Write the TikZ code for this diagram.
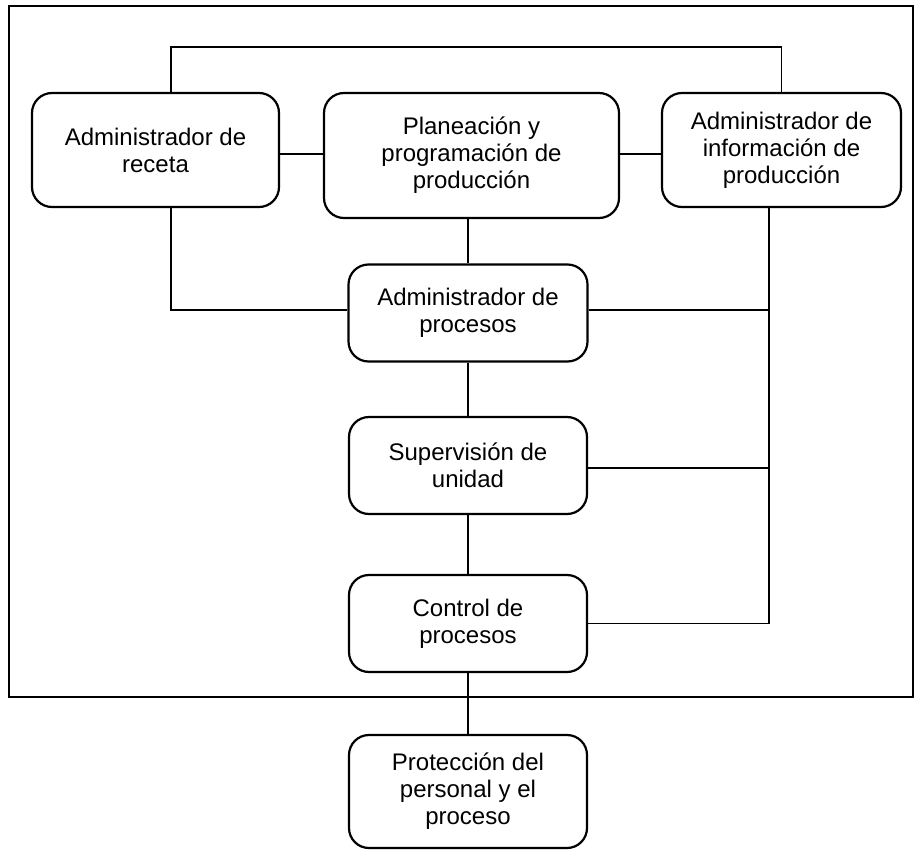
\documentclass[tikz,border=0pt]{standalone}
\usepackage{fontspec}
\setmainfont{Liberation Sans}
\begin{document}
\begin{tikzpicture}[x=1pt,y=-1pt,
  box/.style={draw, line width=2.2pt, rounded corners=20pt, align=center,
    inner sep=0pt, font=\fontsize{24}{27}\selectfont},
  conn/.style={draw, line width=1.4pt},
  frame/.style={draw, line width=1.8pt}]
\useasboundingbox (0,0) rectangle (920,850);
\draw[frame] (9,6) rectangle (913,697);
\node[box, minimum width=247pt, minimum height=114pt] (receta) at (155.5,150) {Administrador de\\receta};
\node[box, minimum width=295pt, minimum height=125pt] (plan) at (471.5,155.5) {Planeación y\\programación de\\producción};
\node[box, minimum width=239pt, minimum height=114pt] (info) at (781.5,150) {Administrador de\\información de\\producción};
\node[box, minimum width=239pt, minimum height=97pt] (proc) at (468,313) {Administrador de\\procesos};
\node[box, minimum width=238pt, minimum height=97pt] (sup) at (468,465.5) {Supervisión de\\unidad};
\node[box, minimum width=238pt, minimum height=97pt] (ctrl) at (468,623.5) {Control de\\procesos};
\node[box, minimum width=238pt, minimum height=113pt] (prot) at (468,791.5) {Protección del\\personal y el\\proceso};
\coordinate (tl) at (171,47);
\coordinate (rv) at (769,623.5);
\draw[conn] (receta.north -| tl) -- (tl) -| (info.north);
\draw[conn] ([yshift=-4pt]receta.east) -- ([yshift=-4pt]receta.east -| plan.west);
\draw[conn] ([yshift=-4pt]info.west) -- ([yshift=-4pt]info.west -| plan.east);
\draw[conn] (receta.south -| tl) |- ([yshift=3pt]proc.west);
\draw[conn] (plan.south -| proc.north) -- (proc.north);
\draw[conn] (info.south -| rv) -- (rv) -- (ctrl.east);
\draw[conn] ([yshift=3pt]proc.east) -- ([yshift=3pt]proc.east -| rv);
\draw[conn] ([yshift=-2.5pt]sup.east) -- ([yshift=-2.5pt]sup.east -| rv);
\draw[conn] (proc.south) -- (sup.north);
\draw[conn] (sup.south) -- (ctrl.north);
\draw[conn] (ctrl.south) -- (prot.north);
\end{tikzpicture}
\end{document}
